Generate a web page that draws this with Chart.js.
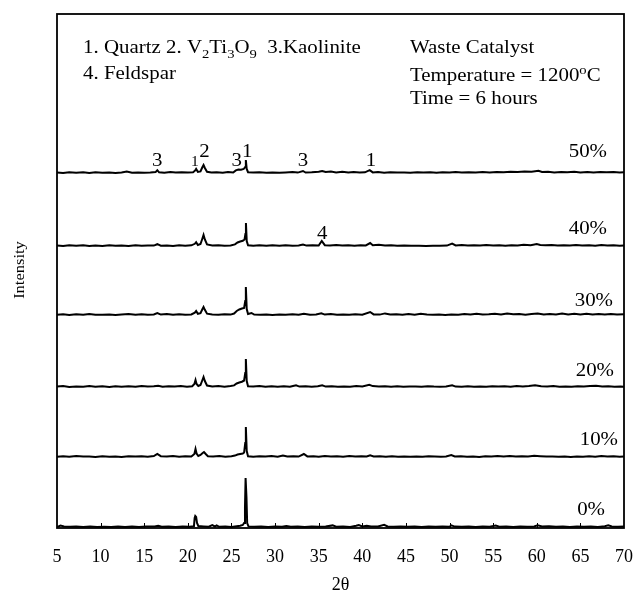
<!DOCTYPE html>
<html>
<head>
<meta charset="utf-8">
<script src="https://cdn.jsdelivr.net/npm/chart.js@4.4.1/dist/chart.umd.min.js"></script>
<style>
  html, body { margin: 0; padding: 0; background: #fff; }
  #wrap { width: 636px; height: 596px; }
</style>
</head>
<body>
<div id="wrap"><canvas id="xrd" width="636" height="596"></canvas></div>
<script>
// sample labels, top to bottom
const sampleLabels = ["50%", "40%", "30%", "20%", "10%", "0%"];
// vertical offset of each pattern (intensity units)
const offsets = [355, 282, 213, 141, 71, 1];
const xTicks = [5, 10, 15, 20, 25, 30, 35, 40, 45, 50, 55, 60, 65, 70];

// [2θ, intensity above own baseline]
const trace50 = [[5,0.5],[5.7,0],[6.4,0.8],[7.2,0.2],[8,0.7],[8.7,0.1],[9.4,0.8],[10.2,0.3],[11,0.6],[11.7,0],[12.4,0.5],[13,1.4],[13.6,0.2],[14.3,0.6],[15,0.3],[15.7,0.5],[16.3,0.9],[16.5,2.8],[16.7,0.7],[17.3,0.3],[18,1],[18.6,0.4],[19.3,0.7],[20,0.4],[20.6,0.8],[20.85,2.6],[20.95,4],[21.15,1.2],[21.45,1.6],[21.65,5.5],[21.8,8],[21.95,5],[22.2,1.2],[22.7,0.5],[23.3,0.8],[24,0.3],[24.6,1],[25.2,0.5],[25.5,2.6],[25.8,3.5],[26.1,3.2],[26.4,4],[26.58,6],[26.65,13],[26.75,4],[26.9,0.8],[27.5,0.4],[28.2,0.7],[29,0.3],[29.7,0.6],[30.5,0.2],[31.2,0.5],[32,0.9],[32.6,0.4],[33.2,2],[33.5,0.5],[34.2,0.7],[35,1.2],[35.4,2],[35.8,1],[36.4,1.4],[37,0.5],[37.7,1.2],[38.4,0.6],[39,0.9],[39.7,0.4],[40.3,0.7],[40.85,2.8],[41.2,0.6],[41.8,0.9],[42.5,0.3],[43.2,0.8],[44,0.4],[44.8,0.6],[45.5,0.2],[46.3,0.7],[47,0.4],[47.8,0.8],[48.5,0.3],[49.2,0.7],[50,0.5],[50.7,0.9],[51.4,0.4],[52.2,0.8],[53,0.5],[53.8,1],[54.6,0.6],[55.4,1.1],[56.2,0.7],[57,1.3],[57.8,1],[58.6,1.5],[59.4,1.2],[60.2,2.2],[60.6,1],[61.3,1.2],[62,0.6],[62.8,1],[63.5,0.7],[64.3,1.2],[65,0.6],[65.8,1],[66.5,0.5],[67.3,1.1],[68,0.7],[68.8,1],[69.5,0.6],[70,0.8]];

const trace40 = [[5,0.4],[5.7,0],[6.4,0.7],[7.2,0.2],[8,0.8],[8.7,0.1],[9.4,0.6],[10.2,0],[11,0.8],[11.7,0.3],[12.4,0.6],[13.2,0.1],[14,0.7],[14.7,0.2],[15.4,0.6],[16.1,0.4],[16.5,1.8],[16.9,0.3],[17.6,0.6],[18.3,0.1],[19,0.7],[19.7,0.3],[20.4,0.7],[20.8,2.2],[20.95,3.8],[21.15,1],[21.45,2],[21.65,7],[21.8,11],[21.95,6.5],[22.2,1.5],[22.8,0.4],[23.5,0.8],[24.2,0.2],[24.9,0.6],[25.4,1.6],[25.7,3.5],[26,4.5],[26.3,5.2],[26.5,6.5],[26.6,12],[26.66,23],[26.75,5],[26.9,0.8],[27.5,0.3],[28.2,0.8],[29,0.2],[29.7,0.7],[30.5,0.3],[31.2,0.8],[32,0.2],[32.7,0.6],[33.2,1.5],[33.6,0.4],[34.3,0.7],[35,0.5],[35.35,5],[35.7,0.8],[36.3,0.6],[37,1],[37.7,0.4],[38.4,0.7],[39.1,0.3],[39.8,0.8],[40.4,0.6],[40.9,3],[41.2,0.8],[41.9,1.2],[42.6,0.4],[43.3,0.7],[44,0.3],[44.8,0.4],[45.6,0.2],[46.5,0.3],[47.3,0.1],[48.1,0.3],[48.9,0.2],[49.7,0.4],[50.3,2.5],[50.7,0.6],[51.4,0.9],[52.1,0.4],[52.8,0.8],[53.5,0.6],[54.2,1.1],[55,0.5],[55.7,0.8],[56.4,0.3],[57.1,0.7],[57.8,0.5],[58.5,1.2],[59.3,0.8],[60,2],[60.4,1],[61,0.7],[61.7,1],[62.4,0.4],[63.1,0.8],[63.8,0.5],[64.5,0.9],[65.2,0.6],[66,0.8],[66.7,0.3],[67.4,0.9],[68.1,0.5],[68.8,0.8],[69.5,0.2],[70,0.5]];

const trace30 = [[5,0.3],[5.7,0.8],[6.4,0.1],[7.2,0.7],[8,0.2],[8.7,1],[9.4,0.3],[10.2,0.2],[11,0.6],[11.7,0.1],[12.4,0.5],[13.2,0.9],[14,0.3],[14.7,0.8],[15.4,0.2],[16.1,0.6],[16.5,2],[16.9,0.4],[17.6,1],[18.3,0.2],[19,0.8],[19.7,0.3],[20.4,0.6],[20.8,2.4],[20.95,4],[21.15,1.2],[21.45,1.8],[21.65,5.5],[21.8,8],[21.95,5.2],[22.2,1.3],[22.8,0.6],[23.5,0.2],[24.2,0.8],[24.9,0.4],[25.3,1.5],[25.6,4],[25.9,5.5],[26.2,6.5],[26.45,7],[26.58,14],[26.65,28],[26.75,6],[26.9,1],[27.3,2],[27.6,0.4],[28.3,0.3],[29,0.5],[29.7,0.1],[30.5,0.5],[31.2,0.2],[32,0.7],[32.7,0.3],[33.3,1.2],[34,0.2],[34.7,0.6],[35.3,1.8],[35.7,0.4],[36.4,0.9],[37.1,0.3],[37.8,0.6],[38.5,0.2],[39.2,0.8],[40,0.3],[40.9,3],[41.3,0.6],[42,0.4],[42.6,1.6],[43.2,0.5],[43.9,0.8],[44.6,0.2],[45.3,1],[46,0.3],[46.7,1.2],[47.4,0.4],[48.1,0.2],[48.8,0.5],[49.5,0.1],[50.2,0.6],[51,0.2],[51.7,1],[52.4,0.4],[53.1,1.2],[53.8,0.5],[54.5,0.8],[55.2,1.3],[55.9,0.6],[56.6,1.5],[57.3,0.7],[58,0.9],[58.7,0.3],[59.4,0.9],[60.1,1.6],[60.8,0.5],[61.5,1],[62.2,0.6],[62.9,1.4],[63.6,0.5],[64.3,1.2],[65,0.6],[65.7,1.3],[66.4,0.4],[67.1,1],[67.8,0.6],[68.5,1.1],[69.2,0.5],[70,0.8]];

const trace20 = [[5,0.4],[5.7,0.9],[6.4,0.1],[7.2,0.6],[8,0.3],[8.7,0.9],[9.4,0.2],[10.2,0.7],[11,0.1],[11.7,0.8],[12.4,0.3],[13.2,0.7],[14,0.2],[14.7,0.9],[15.4,0.4],[16.1,0.7],[16.6,1.3],[17.1,0.2],[17.8,0.8],[18.5,0.4],[19.2,0.9],[19.9,0.3],[20.5,0.8],[20.75,3],[20.88,7],[21,3],[21.2,1],[21.45,2],[21.65,6.5],[21.8,10],[21.95,6],[22.2,1.5],[22.8,0.5],[23.5,0.9],[24.2,0.3],[24.9,0.9],[25.3,1.6],[25.6,3.5],[25.9,4.5],[26.2,5.3],[26.45,6.5],[26.58,14],[26.65,28],[26.75,6],[26.9,0.8],[27.5,0.4],[28.2,0.9],[28.9,0.3],[29.6,0.8],[30.3,0.2],[31,0.7],[31.7,0.2],[32.4,1.6],[32.8,0.4],[33.5,0.8],[34.2,0.3],[34.9,0.7],[35.4,1.8],[35.8,0.4],[36.5,0.7],[37.2,0.2],[37.9,0.6],[38.6,0.3],[39.3,0.9],[40,0.5],[40.8,2.2],[41.2,0.9],[41.9,0.4],[42.6,0.8],[43.3,0.3],[44,0.7],[44.7,0.2],[45.4,0.6],[46.1,0.4],[46.8,0.2],[47.5,0.8],[48.2,0.4],[48.9,0.3],[49.6,0.5],[50.3,1.8],[50.7,0.4],[51.4,0.2],[52.1,0.7],[52.8,0.3],[53.5,0.6],[54.2,0.2],[54.9,0.7],[55.6,0.4],[56.3,0.8],[57,0.3],[57.7,0.9],[58.4,0.5],[59.1,1],[59.8,1.8],[60.5,0.8],[61.2,0.4],[61.9,0.9],[62.6,0.3],[63.3,0.6],[64,0.2],[64.7,0.8],[65.4,0.4],[66.1,0.9],[66.8,1.3],[67.5,0.6],[68.2,0.8],[68.9,0.3],[69.6,0.5],[70,0.3]];

const trace10 = [[5,0.3],[5.7,0.8],[6.4,0.2],[7.2,0.9],[8,0.4],[8.7,0.6],[9.4,0.1],[10.2,0.8],[11,0.3],[11.7,0.5],[12.4,0.1],[13.2,0.7],[14,0.4],[14.7,0.8],[15.4,0.3],[16.1,0.9],[16.5,3],[16.9,0.8],[17.6,0.4],[18.3,0.9],[19,0.3],[19.7,0.7],[20.4,0.5],[20.75,3],[20.88,8],[21,3.5],[21.2,1],[21.45,2],[21.7,4],[21.85,5],[22.05,3],[22.3,0.8],[22.9,0.4],[23.6,0.9],[24.3,0.3],[25,0.7],[25.4,1.4],[25.7,2.5],[26,3],[26.3,3.5],[26.45,4.5],[26.58,14],[26.65,30],[26.75,6],[26.9,0.8],[27.5,0.3],[28.2,0.8],[28.9,0.4],[29.6,0.9],[30.3,0.3],[30.9,1.5],[31.4,0.5],[32.1,0.8],[32.7,0.4],[33.3,3],[33.7,0.6],[34.4,0.8],[35,0.3],[35.7,1],[36.4,0.4],[37.1,0.8],[37.8,0.3],[38.5,1],[39.2,0.4],[39.9,0.8],[40.5,0.5],[40.9,1.8],[41.3,0.5],[42,0.8],[42.7,0.3],[43.4,0.7],[44.1,0.2],[44.8,0.6],[45.5,0.3],[46.2,0.5],[46.9,0.2],[47.6,0.7],[48.3,0.4],[49,0.2],[49.6,0.6],[50.2,2],[50.6,0.5],[51.3,0.8],[52,0.3],[52.7,0.6],[53.4,0.1],[54.1,0.7],[54.8,0.4],[55.5,0.9],[56.2,0.6],[56.9,1],[57.6,0.4],[58.3,0.8],[59,0.6],[59.7,1.2],[60.4,0.8],[61.1,0.4],[61.8,0.6],[62.5,0.2],[63.2,0.5],[63.9,0.1],[64.6,0.6],[65.3,0.3],[66,0.7],[66.7,0.3],[67.4,0.9],[68.1,0.4],[68.8,0.8],[69.5,0.3],[70,0.6]];

const trace0 = [[5,0],[5.4,1.5],[5.8,0.5],[6.5,0.2],[7.2,0.6],[8,0.1],[8.8,0.4],[9.6,0],[10.4,0.3],[11.2,0],[12,0.4],[12.8,0.1],[13.6,0.5],[14.4,0.1],[15.2,0.4],[16.2,0.6],[16.6,1.3],[17,0.3],[17.8,0.5],[18.6,0.1],[19.4,0.6],[20.2,0.3],[20.7,0.8],[20.78,9],[20.85,11],[20.95,10],[21.05,4],[21.2,1],[21.8,0.6],[22.4,0.3],[22.8,1.8],[23.1,0.5],[23.3,1.6],[23.6,0.2],[24.3,0.5],[25,0.1],[25.6,0.8],[26,1.2],[26.3,2],[26.45,4],[26.55,20],[26.62,49],[26.72,30],[26.8,4],[26.95,0.6],[27.6,0.2],[28.4,0.5],[29.2,0.1],[30,0.4],[30.8,0.2],[31.3,1],[31.8,0.2],[32.6,0.5],[33.4,0.1],[34.2,0.6],[35,0.2],[35.8,0.4],[36.6,1.6],[37,0.2],[37.8,0.4],[38.6,0.1],[39.3,1.2],[39.6,2],[40,0.6],[40.5,1.3],[41,0.4],[41.8,0.6],[42.5,2.2],[42.9,0.5],[43.6,0.3],[44.4,0.6],[45.2,0.2],[46,0.5],[46.8,0.1],[47.6,0.5],[48.4,0.2],[49.2,0.5],[50,0.3],[50.2,1.6],[50.6,0.4],[51.4,0.2],[52.2,0.5],[53,0.1],[53.8,0.4],[54.6,0.2],[55.3,1.4],[55.7,0.3],[56.5,0.5],[57.3,0.1],[58.1,0.4],[58.9,0.2],[59.7,0.6],[60.1,1.6],[60.6,0.5],[61.4,0.8],[62.2,0.2],[63,0.5],[63.8,0.1],[64.6,0.4],[65.4,0.2],[66.2,0.5],[67,0.1],[67.8,0.8],[68.2,1.6],[68.6,0.5],[69.3,0.2],[70,0.4]];

const traces = [trace50, trace40, trace30, trace20, trace10, trace0];

// phase markers on the 50% / 40% patterns: [label, 2θ, pattern index]
const peakMarks = [
  ["3", 16.5, 0], ["1", 20.8, 0], ["2", 21.9, 0], ["3", 25.6, 0],
  ["1", 26.8, 0], ["3", 33.2, 0], ["1", 41.0, 0], ["4", 35.4, 1]
];

const serif = "'Liberation Serif', 'Times New Roman', serif";
const stretch = 1.1;

function drawRich(ctx, x, y, parts, size, align) {
  ctx.save();
  ctx.translate(x, y);
  ctx.scale(stretch, 1);
  let total = 0;
  parts.forEach(([text, kind]) => {
    ctx.font = `${kind ? size * 0.7 : size}px ${serif}`;
    total += ctx.measureText(text).width;
  });
  let cx = align === "right" ? -total : align === "center" ? -total / 2 : 0;
  ctx.textAlign = "left";
  parts.forEach(([text, kind]) => {
    const s = kind ? size * 0.7 : size;
    const dy = kind === "sub" ? size * 0.28 : kind === "sup" ? -size * 0.38 : 0;
    ctx.font = `${s}px ${serif}`;
    ctx.fillText(text, cx, dy);
    cx += ctx.measureText(text).width;
  });
  ctx.restore();
}

const decorations = {
  id: "decorations",
  afterDraw(chart) {
    const { ctx, chartArea: area, scales } = chart;
    const xs = scales.x, ys = scales.y;
    ctx.save();
    ctx.strokeStyle = "#000";
    ctx.fillStyle = "#000";

    // frame
    ctx.lineWidth = 1.8;
    ctx.strokeRect(area.left, area.top, area.right - area.left, area.bottom - area.top);

    // inward tick marks
    ctx.lineWidth = 1;
    xTicks.slice(1, -1).forEach(v => {
      const px = Math.round(xs.getPixelForValue(v)) + 0.5;
      ctx.beginPath();
      ctx.moveTo(px, area.bottom);
      ctx.lineTo(px, area.bottom - 5);
      ctx.stroke();
    });

    // sample labels (right end, vertical lift above baseline)
    const labelPlace = [[607, 21], [607, 17], [613, 14], [614, 16], [618, 17], [605, 17]];
    ctx.textBaseline = "middle";
    sampleLabels.forEach((label, i) => {
      const py = ys.getPixelForValue(offsets[i]) - labelPlace[i][1];
      drawRich(ctx, labelPlace[i][0], py, [[label, null]], 19, "right");
    });

    // peak markers
    ctx.textBaseline = "alphabetic";
    peakMarks.forEach(([label, theta, idx]) => {
      const px = xs.getPixelForValue(theta);
      const base = ys.getPixelForValue(offsets[idx]);
      const small = label === "1" && theta < 21;
      const tall = label === "2" || (label === "1" && theta > 26 && theta < 27);
      drawRich(ctx, px, base - (tall ? 16 : 7), [[label, null]], small ? 14 : 19, "center");
    });

    // legend text
    const size = 19;
    drawRich(ctx, 83, 53, [["1. Quartz 2. V", null], ["2", "sub"], ["Ti", null], ["3", "sub"], ["O", null], ["9", "sub"], ["  3.Kaolinite", null]], size);
    drawRich(ctx, 83, 79, [["4. Feldspar", null]], size);
    drawRich(ctx, 410, 53, [["Waste Catalyst", null]], size);
    drawRich(ctx, 410, 81, [["Temperature = 1200", null], ["o", "sup"], ["C", null]], size);
    drawRich(ctx, 410, 104, [["Time = 6 hours", null]], size);

    // y title
    ctx.save();
    ctx.translate(20, 270);
    ctx.rotate(-Math.PI / 2);
    ctx.scale(stretch, 1);
    ctx.textAlign = "center";
    ctx.textBaseline = "middle";
    ctx.font = `15px ${serif}`;
    ctx.fillText("Intensity", 0, 0);
    ctx.restore();

    ctx.restore();
  }
};

new Chart(document.getElementById("xrd"), {
  type: "scatter",
  data: {
    datasets: traces.map((trace, i) => ({
      label: sampleLabels[i],
      data: trace.map(([theta, counts]) => ({ x: theta, y: counts + offsets[i] })),
      showLine: true,
      borderColor: "#000",
      borderWidth: 2,
      pointRadius: 0,
      tension: 0
    }))
  },
  options: {
    responsive: false,
    animation: false,
    layout: { padding: { left: 57, right: 12, top: 14, bottom: 0 } },
    plugins: { legend: { display: false }, tooltip: { enabled: false } },
    scales: {
      x: {
        type: "linear",
        min: 5,
        max: 70,
        afterBuildTicks: axis => { axis.ticks = xTicks.map(v => ({ value: v })); },
        afterFit: axis => { axis.height = 68; axis.paddingLeft = 0; axis.paddingRight = 0; },
        grid: { display: false, drawTicks: false },
        border: { display: false },
        ticks: { color: "#000", padding: 18, font: { family: serif, size: 18 }, maxRotation: 0 },
        title: { display: true, text: "2θ", color: "#000", font: { family: serif, size: 18 }, padding: { top: 0, bottom: 0 } }
      },
      y: { display: false, min: 0, max: 514 }
    }
  },
  plugins: [decorations]
});
</script>
</body>
</html>
